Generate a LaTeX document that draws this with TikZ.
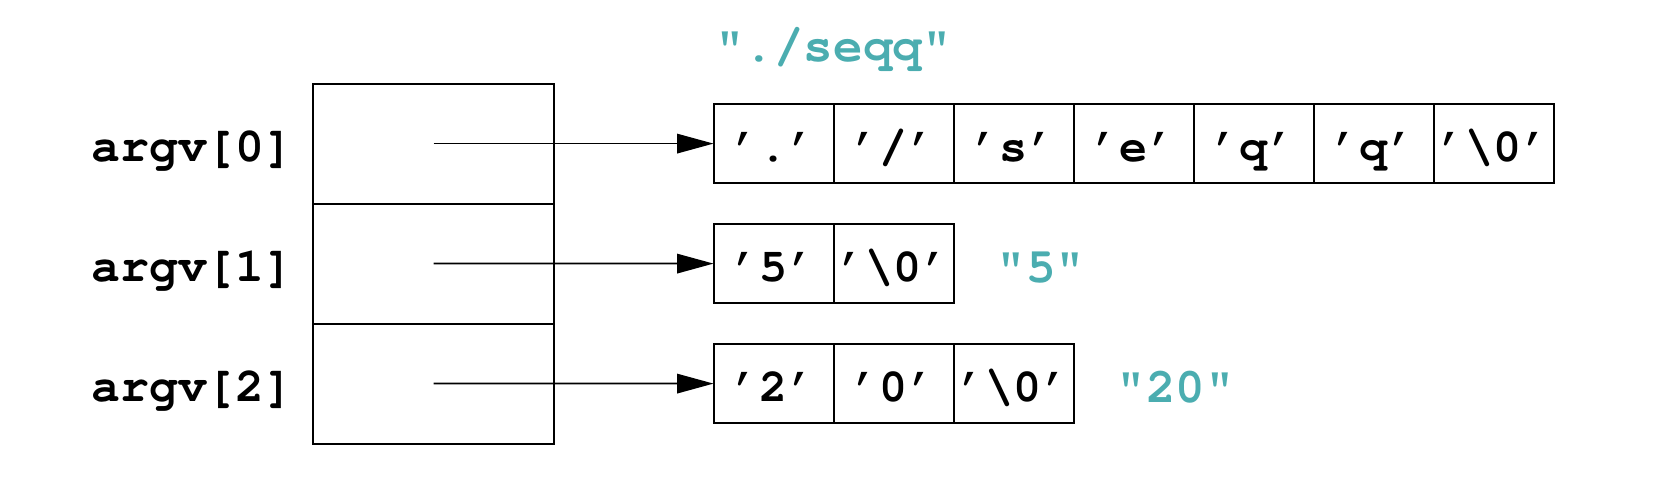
\documentclass[tikz,border=0pt]{standalone}
\usepackage[T1]{fontenc}
\usepackage{courier}
\usetikzlibrary{arrows.meta, positioning}
\definecolor{strteal}{HTML}{4BADB0}

\begin{document}
\begin{tikzpicture}[
        font=\ttfamily\bfseries\fontsize{26.6}{30}\selectfont,
        ptr/.style={draw, line width=0.04cm, rectangle, minimum width=4.82cm, minimum height=2.4cm, outer sep=0pt, inner sep=0pt},
        cell/.style={draw, line width=0.04cm, rectangle, minimum width=2.4cm, minimum height=1.58cm, outer sep=0pt, inner sep=0pt, text height=0.72cm, text depth=0cm},
        argname/.style={inner sep=0pt, font=\ttfamily\bfseries\fontsize{27.4}{31}\selectfont, text height=0.73cm, text depth=0cm},
        strlabel/.style={inner sep=0pt, text=strteal, font=\ttfamily\bfseries\fontsize{28}{32}\selectfont, text height=0.74cm, text depth=0cm},
        flow/.style={-{Triangle[length=0.73cm, width=0.39cm]}, line width=0.035cm}
    ]

    \useasboundingbox (0,0) rectangle (33.6,-9.76);

    % argv array
    \node[ptr] (ptr0) at (8.67,-2.872) {};
    \node[ptr, below=0pt of ptr0] (ptr1) {};
    \node[ptr, below=0pt of ptr1] (ptr2) {};

    \node[argname, left=0.38cm of ptr0] (arg0) {argv[0]};
    \node[argname, left=0.38cm of ptr1] (arg1) {argv[1]};
    \node[argname, left=0.38cm of ptr2] (arg2) {argv[2]};

    % "./seqq"
    \node[cell] (c00) at (15.47,-2.872) {'.'};
    \node[cell, right=0pt of c00] (c01) {'/'};
    \node[cell, right=0pt of c01] (c02) {'s'};
    \node[cell, right=0pt of c02] (c03) {'e'};
    \node[cell, right=0pt of c03] (c04) {'q'};
    \node[cell, right=0pt of c04] (c05) {'q'};
    \node[cell, right=0pt of c05] (c06) {'\textbackslash0'};

    % "5"
    \node[cell] (c10) at (15.47,-5.272) {'5'};
    \node[cell, right=0pt of c10] (c11) {'\textbackslash0'};

    % "20"
    \node[cell] (c20) at (15.47,-7.672) {'2'};
    \node[cell, right=0pt of c20] (c21) {'0'};
    \node[cell, right=0pt of c21] (c22) {'\textbackslash0'};

    \node[strlabel, above=0.84cm of c00.north east] (str0) {"./seqq"};
    \node[strlabel, right=0.86cm of c11] (str1) {"5"};
    \node[strlabel, right=0.86cm of c22] (str2) {"20"};

    \draw[flow] (ptr0.center) -- (c00);
    \draw[flow] (ptr1.center) -- (c10);
    \draw[flow] (ptr2.center) -- (c20);

\end{tikzpicture}
\end{document}
